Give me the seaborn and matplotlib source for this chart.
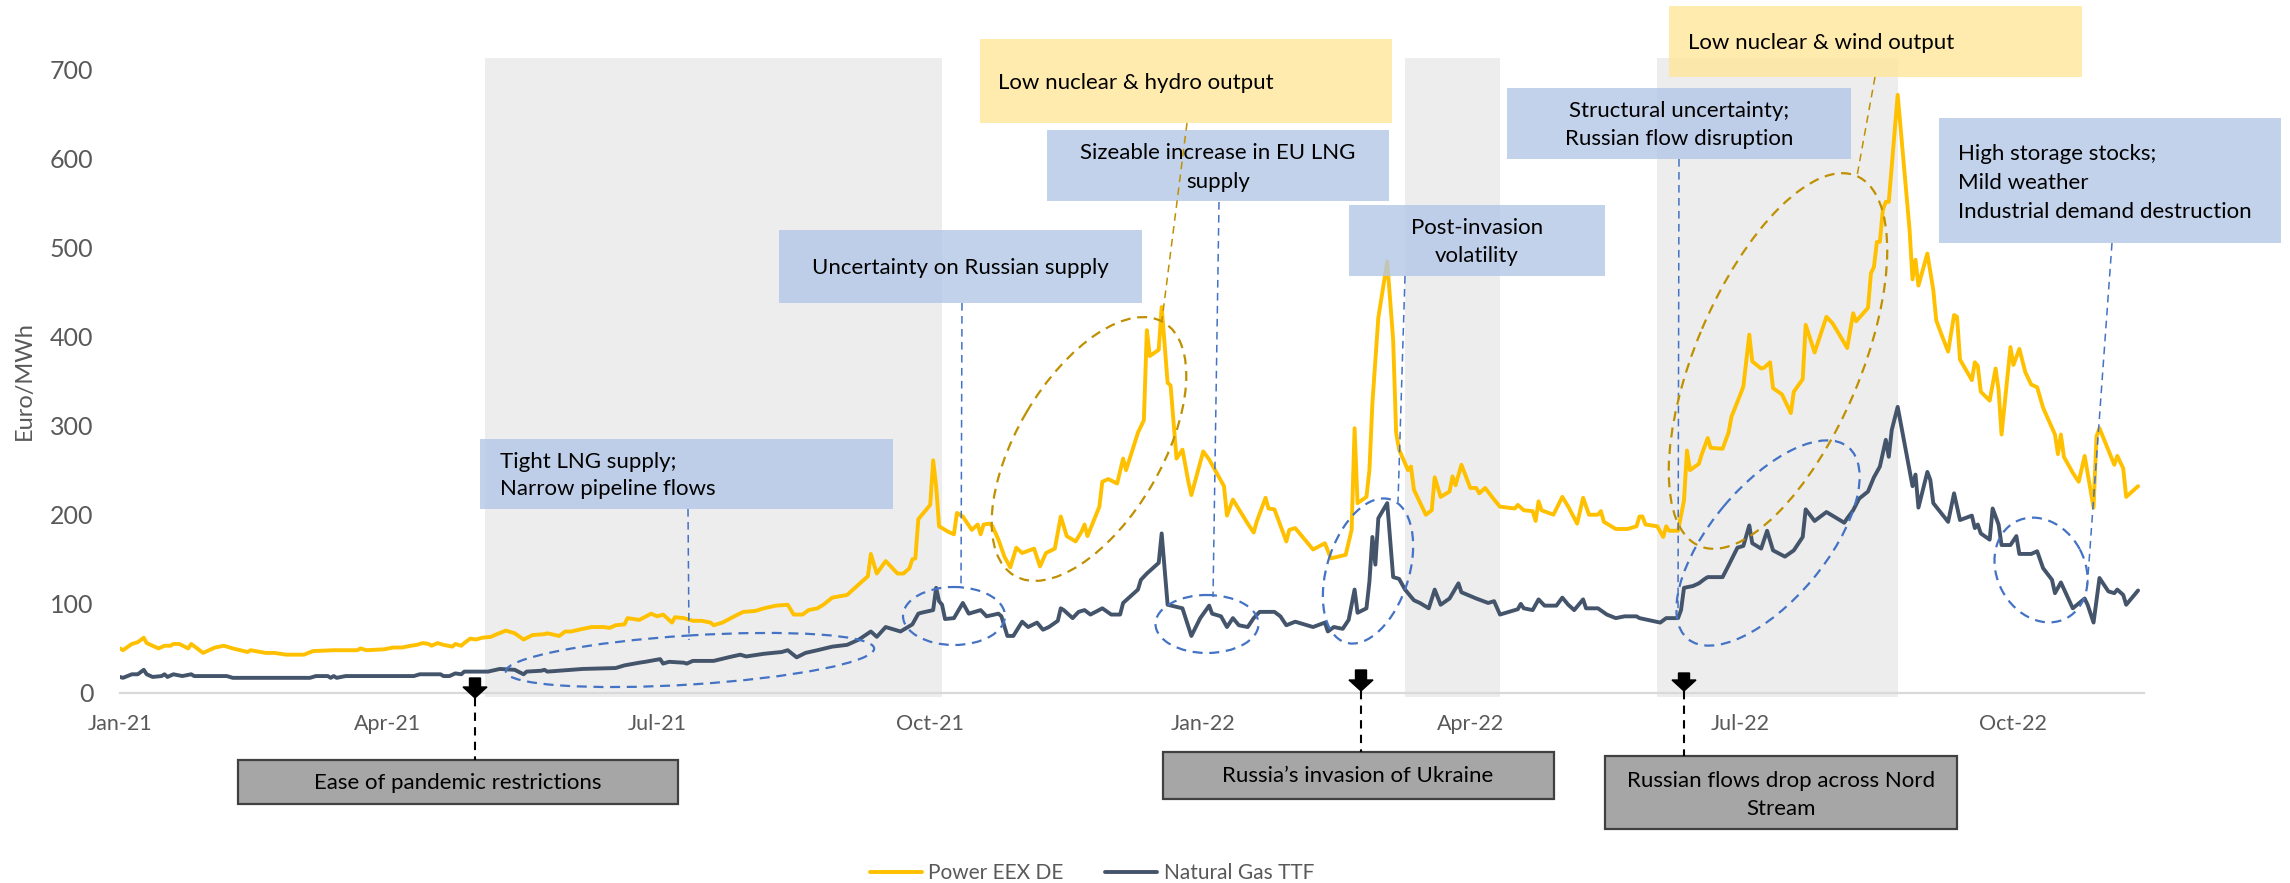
import matplotlib
matplotlib.use("Agg")
import matplotlib.pyplot as plt
import matplotlib.dates as mdates
import matplotlib.patches as mpatches
import matplotlib.transforms as mtransforms
from matplotlib.lines import Line2D
import pandas as pd
import seaborn as sns

# daily-ish readings, days counted from 1 Jan 2021
power_days = [0, 1, 4, 6, 8, 9, 11, 13, 15, 17, 18, 20, 23, 24, 28, 30, 32, 35, 38, 43, 44, 49, 52, 56, 62, 65,
              72, 80, 81, 83, 89, 92, 95, 98, 100, 102, 104, 105, 107, 109, 112, 113, 115, 116, 118, 120, 122,
              125, 127, 130, 133, 136, 139, 143, 144, 148, 150, 152, 156, 159, 163, 165, 167, 170, 171, 175,
              179, 181, 183, 186, 187, 190, 193, 196, 199, 200, 203, 207, 210, 214, 217, 221, 225, 227, 230,
              232, 235, 237, 240, 245, 248, 252, 253, 255, 258, 262, 264, 266, 267, 268, 269, 273, 274, 275,
              276, 279, 281, 282, 284, 287, 289, 290, 291, 293, 294, 296, 298, 300, 302, 304, 308, 310, 312,
              315, 317, 319, 322, 324, 325, 326, 330, 331, 333, 336, 338, 339, 343, 345, 346, 347, 350, 351,
              353, 354, 356, 358, 360, 361, 365, 367, 372, 373, 375, 380, 382, 383, 386, 387, 389, 393, 394,
              396, 402, 406, 408, 413, 415, 416, 417, 420, 421, 422, 424, 427, 429, 430, 431, 434, 435, 436,
              440, 442, 443, 445, 448, 449, 450, 452, 455, 457, 458, 460, 463, 465, 470, 471, 473, 476, 477,
              478, 479, 483, 486, 488, 491, 493, 495, 498, 499, 500, 504, 508, 511, 512, 513, 514, 518, 520,
              521, 522, 525, 527, 528, 529, 532, 533, 535, 536, 540, 542, 543, 546, 547, 549, 550, 553, 554,
              556, 557, 560, 563, 564, 567, 568, 571, 575, 577, 579, 582, 584, 585, 589, 590, 591, 592, 593,
              594, 595, 596, 599, 603, 604, 605, 606, 609, 611, 612, 614, 616, 618, 619, 620, 624, 625, 626,
              627, 630, 632, 633, 634, 637, 638, 640, 642, 644, 646, 648, 652, 653, 654, 655, 658, 660, 662,
              665, 666, 667, 672, 673, 675, 676, 680]
power_vals = [50, 48, 55, 57, 62, 56, 53, 50, 53, 53, 55, 55, 50, 55, 45, 48, 51, 53, 50, 46, 48, 45, 45, 43, 43, 47,
              48, 48, 50, 48, 49, 51, 51, 53, 54, 56, 55, 53, 56, 54, 52, 55, 53, 56, 61, 60, 62,
              63, 66, 70, 67, 60, 65, 66, 67, 64, 69, 69, 72, 74, 74, 73, 76, 77, 84, 82,
              89, 86, 88, 79, 85, 84, 81, 81, 79, 76, 79, 86, 91, 92, 95, 98, 99, 88, 88,
              93, 95, 99, 107, 110, 119, 131, 156, 134, 148, 134, 134, 140, 150, 151, 195, 211, 261, 232,
              187, 181, 178, 202, 198, 183, 189, 178, 189, 190, 187, 172, 153, 141, 163, 157, 162, 142, 157,
              162, 198, 176, 170, 181, 189, 176, 209, 237, 240, 235, 263, 250, 292, 306, 407, 378, 385, 433,
              348, 345, 263, 273, 237, 222, 271, 262, 232, 199, 217, 190, 180, 192, 219, 207, 206, 170, 183,
              185, 161, 168, 151, 155, 183, 297, 213, 220, 250, 325, 421, 484, 396, 292, 273, 250, 254, 228,
              200, 205, 242, 220, 226, 243, 233, 256, 230, 230, 224, 230, 217, 209, 207, 211, 205, 204, 193,
              215, 205, 200, 220, 209, 190, 219, 200, 200, 204, 192, 184, 184, 187, 198, 198, 189, 187, 175,
              187, 182, 182, 216, 272, 250, 257, 268, 286, 275, 274, 292, 310, 335, 344, 402, 372, 364, 365,
              371, 342, 335, 314, 338, 352, 413, 382, 422, 415, 404, 387, 426, 417, 432, 471, 478, 506, 506,
              542, 551, 551, 671, 520, 464, 486, 457, 493, 452, 418, 400, 383, 424, 422, 374, 351, 371, 367,
              338, 328, 364, 340, 290, 388, 368, 386, 360, 346, 343, 320, 290, 268, 290, 265, 247, 237, 266,
              208, 288, 297, 256, 266, 252, 220, 232]

gas_days = [0, 1, 4, 6, 8, 9, 11, 14, 15, 16, 18, 21, 24, 25, 36, 38, 64, 66, 70, 71, 72, 73, 76, 99, 101, 108,
            109, 111, 113, 115, 116, 124, 128, 133, 136, 137, 142, 143, 144, 156, 167, 170, 175, 177, 182, 183,
            185, 190, 191, 193, 200, 205, 209, 211, 217, 223, 225, 228, 231, 235, 240, 245, 249, 253, 255, 258,
            263, 267, 269, 270, 274, 275, 276, 277, 278, 281, 284, 286, 290, 292, 296, 297, 299, 301, 304, 306,
            309, 311, 313, 316, 317, 318, 321, 323, 325, 327, 331, 334, 337, 338, 343, 344, 346, 350, 351, 353,
            358, 361, 364, 367, 368, 371, 373, 375, 377, 380, 382, 384, 389, 391, 393, 396, 402, 406, 407, 409,
            412, 414, 416, 417, 420, 421, 422, 423, 424, 427, 429, 431, 433, 436, 438, 441, 443, 445, 448, 451,
            452, 457, 461, 463, 465, 471, 472, 473, 476, 478, 480, 484, 486, 488, 490, 493, 494, 498, 501, 504,
            507, 511, 512, 519, 521, 525, 526, 527, 530, 532, 534, 535, 540, 542, 545, 547, 549, 550, 553, 555,
            557, 561, 564, 567, 568, 571, 575, 577, 581, 582, 584, 586, 589, 591, 593, 595, 596, 597, 599, 604,
            605, 606, 609, 610, 611, 616, 618, 620, 624, 625, 626, 627, 630, 631, 633, 634, 637, 639, 640, 644,
            646, 648, 651, 652, 654, 658, 662, 663, 665, 667, 670, 672, 673, 675, 676, 680]
gas_vals = [18, 17, 21, 21, 26, 21, 18, 19, 21, 18, 21, 19, 21, 19, 19, 17, 17, 19, 19, 17, 19, 17, 19, 19, 21, 21,
            19, 19, 22, 21, 24, 24, 27, 26, 21, 24, 25, 26, 24, 27, 28, 31, 34, 35, 38, 33,
            35, 34, 33, 36, 36, 40, 43, 41, 44, 46, 48, 40, 45, 48, 52, 54, 60, 69, 63, 74,
            69, 77, 89, 90, 93, 118, 103, 99, 83, 84, 101, 89, 93, 86, 89, 86, 64, 64, 80, 74,
            79, 71, 74, 81, 95, 93, 84, 91, 93, 88, 95, 88, 88, 101, 116, 127, 134, 146, 179, 99,
            95, 64, 84, 98, 89, 86, 74, 84, 76, 74, 84, 91, 91, 86, 76, 80, 74, 79, 69, 74,
            72, 82, 116, 90, 95, 125, 175, 144, 196, 213, 130, 128, 116, 104, 101, 95, 116, 99, 106, 123,
            113, 106, 101, 103, 88, 94, 100, 95, 93, 105, 98, 98, 107, 99, 93, 105, 95, 95, 88, 84,
            86, 86, 84, 79, 84, 84, 93, 118, 120, 123, 128, 130, 130, 143, 163, 165, 188, 168, 162, 182,
            160, 153, 160, 175, 206, 193, 203, 199, 191, 196, 205, 218, 226, 242, 254, 284, 265, 295, 321, 232,
            245, 208, 248, 239, 213, 192, 224, 194, 199, 185, 189, 179, 172, 207, 189, 166, 166, 176, 156, 156,
            159, 140, 127, 112, 124, 95, 106, 99, 79, 129, 114, 112, 116, 110, 99, 115]

series_names = ["Power EEX DE", "Natural Gas TTF"]
y_ticks = [0, 100, 200, 300, 400, 500, 600, 700]
shade_periods = [("2021-05-04", "2021-10-05"), ("2022-03-10", "2022-04-11"), ("2022-06-03", "2022-08-23")]
start = pd.Timestamp("2021-01-01")

W, H = 2290, 883
YELLOW, SLATE = "#FFC000", "#44546A"
BLUE_BOX, GOLD_BOX = "#B4C7E7", "#FFE699"
BLUE, GOLD = "#4472C4", "#BF9000"
GREY_TXT = "#595959"

sns.set_theme(style="white")
plt.rcParams["font.family"] = ["Lato", "DejaVu Sans"]

fig = plt.figure(figsize=(W / 100, H / 100), dpi=100)
ax = fig.add_axes([120 / W, 1 - 693 / H, (2144 - 120) / W, (693 - 69) / H])

power = pd.DataFrame({"date": start + pd.to_timedelta(power_days, unit="D"), "value": power_vals})
gas = pd.DataFrame({"date": start + pd.to_timedelta(gas_days, unit="D"), "value": gas_vals})

for a, b in shade_periods:
    sp = ax.axvspan(pd.Timestamp(a), pd.Timestamp(b), ymin=-0.0064, ymax=1.0176,
                    color="#EDEDED", lw=0, zorder=0)
    sp.set_clip_on(False)

sns.lineplot(data=power, x="date", y="value", color=YELLOW, lw=2.8, label=series_names[0], ax=ax, zorder=3)
sns.lineplot(data=gas, x="date", y="value", color=SLATE, lw=2.8, label=series_names[1], ax=ax, zorder=3)

ax.set_xlim(start, start + pd.Timedelta(days=682))
ax.set_ylim(0, 700)
ax.set_yticks(y_ticks)
ax.set_xlabel("")
ax.set_ylabel("Euro/MWh", fontsize=17, color=GREY_TXT)
ax.yaxis.set_label_coords(-0.042, 0.5)

ax.xaxis.set_major_locator(mdates.MonthLocator(bymonth=[1, 4, 7, 10]))
ax.xaxis.set_minor_locator(mdates.MonthLocator())
ax.xaxis.set_major_formatter(mdates.DateFormatter("%b-%y"))

for s in ["top", "right", "left"]:
    ax.spines[s].set_visible(False)
ax.spines["bottom"].set_color("#D9D9D9")
ax.spines["bottom"].set_linewidth(1.6)
ax.spines["bottom"].set_zorder(1)
ax.tick_params(axis="x", which="major", length=6, width=1.4, color="#D9D9D9", pad=9,
               labelsize=15.5, labelcolor=GREY_TXT)
ax.tick_params(axis="x", which="minor", length=4, width=1.4, color="#D9D9D9")
ax.tick_params(axis="y", length=0, pad=19, labelsize=18, labelcolor=GREY_TXT)
ax.patch.set_alpha(0)

handles, labels = ax.get_legend_handles_labels()
ax.get_legend().remove()
fig.legend(handles, labels, loc="center", bbox_to_anchor=(1092 / W, 1 - 873 / H), ncol=2, frameon=False,
           fontsize=15, handlelength=2.5, handletextpad=0.3, columnspacing=2.0, labelcolor=GREY_TXT)

# annotation layer in reference pixel coordinates (origin top-left)
pix = mtransforms.Affine2D().scale(1 / W, -1 / H).translate(0, 1) + fig.transFigure


def box(x0, y0, x1, y1, face, alpha=1.0, edge="none", lw=0):
    fig.add_artist(mpatches.Rectangle((x0, y0), x1 - x0, y1 - y0, transform=pix, facecolor=face,
                                      alpha=alpha, edgecolor=edge, lw=lw, zorder=2))


def words(x, ys, lines, ha="left", size=16):
    for y, t in zip(ys, lines):
        fig.text(x, y, t, transform=pix, ha=ha, va="center", fontsize=size, color="black", zorder=4)


def ring(cx, cy, w, h, angle, color):
    fig.add_artist(mpatches.Ellipse((cx, cy), w, h, angle=-angle, transform=pix, fill=False,
                                    edgecolor=color, lw=1.6, ls=(0, (4.5, 3)), zorder=5))


def leader(x0, y0, x1, y1, color, lw=1.1, ls=(0, (5, 3.5))):
    fig.add_artist(Line2D([x0, x1], [y0, y1], transform=pix, color=color, lw=lw, ls=ls, zorder=5))


def event(x, top, tip, box_top):
    leader(x, tip, x, box_top, "black", lw=1.5, ls=(0, (4, 3)))
    fig.add_artist(mpatches.FancyArrow(x, top, 0, tip - top, width=11, head_width=24, head_length=11,
                                       length_includes_head=True, transform=pix, color="black", zorder=6))


# blue and yellow explanation boxes
box(480, 439, 893, 509, BLUE_BOX, 0.8)
words(500, [462, 489], ["Tight LNG supply;", "Narrow pipeline flows"])
box(779, 230, 1142, 303, BLUE_BOX, 0.8)
words(960, [268], ["Uncertainty on Russian supply"], ha="center")
box(980, 39, 1392, 123, GOLD_BOX, 0.8)
words(998, [83], ["Low nuclear & hydro output"])
box(1047, 130, 1389, 201, BLUE_BOX, 0.8)
words(1218, [153, 182], ["Sizeable increase in EU LNG", "supply"], ha="center")
box(1349, 205, 1605, 276, BLUE_BOX, 0.8)
words(1477, [228, 256], ["Post-invasion", "volatility"], ha="center")
box(1507, 88, 1851, 159, BLUE_BOX, 0.8)
words(1679, [111, 139], ["Structural uncertainty;", "Russian flow disruption"], ha="center")
box(1669, 6, 2082, 77, GOLD_BOX, 0.8)
words(1688, [43], ["Low nuclear & wind output"])
box(1939, 118, 2281, 243, BLUE_BOX, 0.8)
words(1958, [154, 183, 212], ["High storage stocks;", "Mild weather", "Industrial demand destruction"])

# leaders and circled episodes
leader(688, 509, 689, 640, BLUE)
leader(962, 303, 961, 588, BLUE)
leader(1187, 123, 1162, 320, GOLD)
leader(1219, 202, 1213, 597, BLUE)
leader(1405, 276, 1398, 502, BLUE)
leader(1679, 159, 1678, 612, BLUE)
leader(1875, 77, 1857, 176, GOLD)
leader(2112, 243, 2087, 590, BLUE)

ring(690, 660, 369, 49, 3.6, BLUE)
ring(954, 616, 102, 58, 0, BLUE)
ring(1089, 449, 294, 145, 59.5, GOLD)
ring(1207, 624, 103, 58, 0, BLUE)
ring(1368, 571, 150, 82, 72.5, BLUE)
ring(1778, 361, 402, 165, 67, GOLD)
ring(1768, 543, 250, 115, 50, BLUE)
ring(2041, 570, 109, 88, -62, BLUE)

# events below the axis
box(238, 760, 678, 804, "#A6A6A6", edge="#404040", lw=1.6)
words(458, [783], ["Ease of pandemic restrictions"], ha="center")
event(475, 678, 698, 760)
box(1163, 752, 1554, 799, "#A6A6A6", edge="#404040", lw=1.6)
words(1358, [776], ["Russia\u2019s invasion of Ukraine"], ha="center")
event(1361, 670, 691, 752)
box(1605, 756, 1957, 829, "#A6A6A6", edge="#404040", lw=1.6)
words(1781, [781, 809], ["Russian flows drop across Nord", "Stream"], ha="center")
event(1684, 673, 691, 756)

fig.savefig("out.png", dpi=100)
